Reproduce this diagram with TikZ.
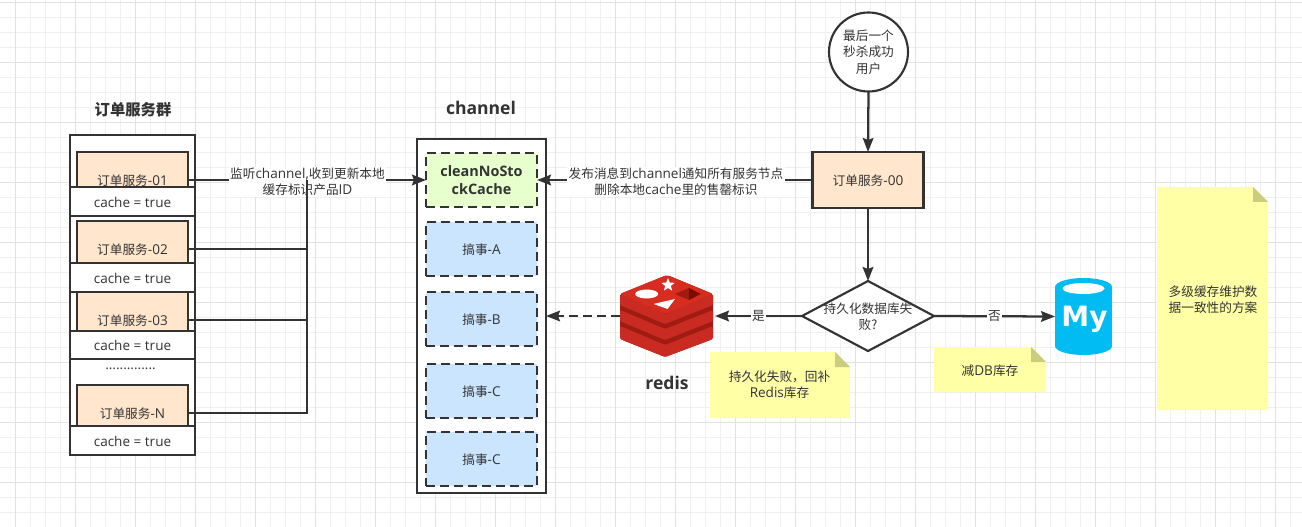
\documentclass[tikz,border=0pt]{standalone}
\usepackage{fontspec}
\usetikzlibrary{arrows.meta,shapes.geometric}
\setmainfont[Scale=1.07]{Open Sans}
\newfontfamily\cjkf{Noto Sans CJK SC}
\newfontfamily\logof{DejaVu Sans}
\newcommand{\zh}[1]{{\cjkf #1}}
\definecolor{ink}{HTML}{333333}
\definecolor{gridmajor}{HTML}{E2E2E2}
\definecolor{gridminor}{HTML}{F0F0F0}
\definecolor{peach}{HTML}{FFE6CC}
\definecolor{leaf}{HTML}{E6FFCC}
\definecolor{sky}{HTML}{CCE5FF}
\definecolor{notefill}{HTML}{FFFFA6}
\definecolor{notefold}{HTML}{CCCC7E}
\definecolor{mysqlblue}{HTML}{00BCF2}
\definecolor{redtop}{HTML}{D82C20}
\definecolor{redside}{HTML}{C92B22}
\definecolor{redshade}{HTML}{A01C12}
\definecolor{reddark}{HTML}{7A0C00}
\tikzset{
  x=0.75pt,y=-0.75pt,
  sz/.style 2 args={minimum width=#1*0.75pt,minimum height=#2*0.75pt,inner sep=0pt,outer sep=0pt},
  txt/.style={font=\fontsize{9.5pt}{12pt}\selectfont,text=ink,align=center,inner sep=0pt},
  oneline/.style={text height=9.5pt,text depth=1pt},
  title/.style={font=\fontsize{11.5pt}{14pt}\selectfont\bfseries,text=ink,align=center,inner sep=0pt},
  bigtitle/.style={title,font=\fontsize{12.3pt}{15pt}\selectfont\bfseries},
  line/.style={draw=ink,line width=1.6pt},
  outer/.style={line,fill=white},
  svc/.style={line,fill=peach,txt,oneline},
  cachebox/.style={line,fill=white,txt,oneline},
  msg/.style={draw=ink,line width=1.6pt,dash pattern=on 7pt off 3.5pt,txt},
  conn/.style={draw=ink,line width=1.7pt},
  arr/.style={conn,-{Stealth[length=10.5pt,width=8pt,inset=1.5pt]}},
  lab/.style={txt,fill=white,inner sep=1pt},
  notebody/.style={fill=notefill},
  notecorner/.style={fill=notefold},
}
\begin{document}
\begin{tikzpicture}
\useasboundingbox (0,0) rectangle (1302,527);
\fill[white] (0,0) rectangle (1302,527);
% grid
\foreach \i in {0,...,86}{\draw[gridminor,line width=0.6pt] (15+15*\i,0) -- (15+15*\i,527);}
\foreach \i in {0,...,35}{\draw[gridminor,line width=0.6pt] (0,2+15*\i) -- (1302,2+15*\i);}
\foreach \i in {0,...,21}{\draw[gridmajor,line width=0.7pt] (15+60*\i,0) -- (15+60*\i,527);}
\foreach \i in {0,...,8}{\draw[gridmajor,line width=0.7pt] (0,2+60*\i) -- (1302,2+60*\i);}

% titles
\node[title] (t1) at (133,109.5) {\zh{订单服务群}};
\node[bigtitle] (t2) at (481,108) {channel};
\node[bigtitle] (t3) at (667,383) {redis};

% order service group
\node[outer,sz={125}{319}] (grp) at (132.5,294.5) {};
\node[svc,sz={111}{56}] (s1) at (132.5,180) {\zh{订单服务}-01};
\node[svc,sz={111}{56}] (s2) at (132.5,249) {\zh{订单服务}-02};
\node[svc,sz={111}{56}] (s3) at (132.5,320) {\zh{订单服务}-03};
\node[svc,sz={111}{56}] (sn) at (132.5,413) {\zh{订单服务}-N};
\node[cachebox,sz={125}{29}] (c1) at (132.5,201.5) {cache = true};
\node[cachebox,sz={125}{29}] (c2) at (132.5,277.5) {cache = true};
\node[cachebox,sz={125}{28}] (c3) at (132.5,345) {cache = true};
\node[cachebox,sz={125}{29}] (cn) at (132.5,440.5) {cache = true};
\node[txt] (dots) at (130.5,369) {..............};

% channel
\node[outer,sz={129}{354}] (chan) at (481.5,316) {};
\node[msg,fill=leaf,sz={111}{54},font=\fontsize{10.1pt}{14pt}\selectfont\bfseries] (g) at (481.5,180) {cleanNoSto\\ckCache};
\node[msg,oneline,fill=sky,sz={111}{54}] (a) at (481.5,249) {\zh{搞事}-A};
\node[msg,oneline,fill=sky,sz={111}{54}] (b) at (481.5,319) {\zh{搞事}-B};
\node[msg,oneline,fill=sky,sz={111}{54}] (c) at (481.5,391) {\zh{搞事}-C};
\node[msg,oneline,fill=sky,sz={111}{54}] (d) at (481.5,459) {\zh{搞事}-C};

% right column
\node[line,circle,fill=white,minimum size=79*0.75pt,inner sep=0pt,outer sep=0pt] (user) at (868.5,52) {};
\node[txt,font=\fontsize{9.5pt}{12.4pt}\selectfont] (usertext) at (868.5,52) {\zh{最后一个}\\\zh{秒杀成功}\\\zh{用户}};
\node[svc,sz={111}{56}] (s0) at (868,180) {\zh{订单服务}-00};
\node[line,diamond,fill=white,aspect=1.886,minimum width=132*0.75pt,minimum height=70*0.75pt,inner sep=0pt,outer sep=0pt] (dec) at (868,316) {};
\node[txt] (dectext) at (868,317) {\zh{持久化数据库失}\\\zh{败?}};

% anchors for icons
\node[sz={93}{82}] (redis) at (666.5,316) {};
\node[sz={57}{77}] (mysql) at (1083.5,316.5) {};

% connectors
\draw[arr] (s1.east) -- (g.west);
\node[lab] (listen) at (307.5,182) {\zh{监听}channel,\zh{收到更新本地}\\\zh{缓存标识产品}ID};
\coordinate (bus) at (307,180);
\draw[conn] (s2.east) -- (s2.east -| bus);
\draw[conn] (s3.east) -- (s3.east -| bus);
\draw[conn] (sn.east) -| (bus);
\draw[arr] (s0.west) -- (g.east);
\node[lab] (publish) at (676,182) {\zh{发布消息到}channel\zh{通知所有服务节点}\\\zh{删除本地}cache\zh{里的售罄标识}};
\draw[arr] (user.south) -- (s0.north);
\draw[arr] (s0.south) -- (dec.north);
\draw[arr] (dec.west) -- node[lab] (yes) {\zh{是}} ([xshift=1.5pt]redis.east);
\draw[arr] (dec.east) -- node[lab] (no) {\zh{否}} (mysql.west);
\draw[arr,dash pattern=on 7pt off 3.5pt] (redis.west) -- (redis.west -| chan.east);

% redis logo
\fill[redshade,rounded corners=1.5pt] (620,294) -- (667,275) -- (713,294) -- (713,339) -- (665,357) -- (620,339) -- cycle;
\fill[redside,rounded corners=1pt] (620,326) -- (665,345) -- (713,326) -- (713,339) -- (665,357) -- (620,339) -- cycle;
\fill[redside,rounded corners=1pt] (620,310) -- (665,329) -- (713,310) -- (713,321) -- (665,340) -- (620,321) -- cycle;
\fill[redside,rounded corners=1pt] (620,294) -- (665,314) -- (713,294) -- (713,305) -- (665,324) -- (620,305) -- cycle;
\fill[redtop,rounded corners=1.5pt] (620,294) -- (667,275) -- (713,294) -- (665,314) -- cycle;
\fill[white] (646.7,294) ellipse [x radius=11.5,y radius=4.5];
\node[star,star points=5,star point ratio=2.3,fill=white,minimum size=14*0.75pt,inner sep=0pt] (redisstar) at (668,285) {};
\fill[white] (653.5,304) -- (675,299) -- (667.5,309) -- cycle;
\fill[redshade] (675,294) -- (689,288) -- (700.5,294) -- (689,300) -- cycle;
\fill[reddark] (689,288) -- (700.5,294) -- (689,300) -- cycle;

% mysql logo
\fill[mysqlblue] (1083.5,287) ellipse [x radius=28.5,y radius=9];
\fill[mysqlblue] (1083.5,346) ellipse [x radius=28.5,y radius=9];
\fill[mysqlblue] (1055,287) rectangle (1112,346);
\fill[white] (1083.5,288.5) ellipse [x radius=21,y radius=5.5];
\node[inner sep=0pt,text=white,font=\logof\fontsize{21pt}{21pt}\selectfont\bfseries] (mylogo) at (1084.5,319) {My};

% notes
\fill[notebody] (710,352) -- (835,352) -- (850,367) -- (850,418) -- (710,418) -- cycle;
\fill[notecorner] (835,352) -- (850,367) -- (835,367) -- cycle;
\node[txt] (note1) at (779.5,385) {\zh{持久化失败，回补}\\Redis\zh{库存}};
\fill[notebody] (934,347) -- (1031,347) -- (1046,362) -- (1046,392) -- (934,392) -- cycle;
\fill[notecorner] (1031,347) -- (1046,362) -- (1031,362) -- cycle;
\node[txt,oneline] (note2) at (990,370) {\zh{减}DB\zh{库存}};
\fill[notebody] (1157,187) -- (1253,187) -- (1268,202) -- (1268,410) -- (1157,410) -- cycle;
\fill[notecorner] (1253,187) -- (1268,202) -- (1253,202) -- cycle;
\node[txt] (note3) at (1213,300) {\zh{多级缓存维护数}\\\zh{据一致性的方案}};
\end{tikzpicture}
\end{document}
